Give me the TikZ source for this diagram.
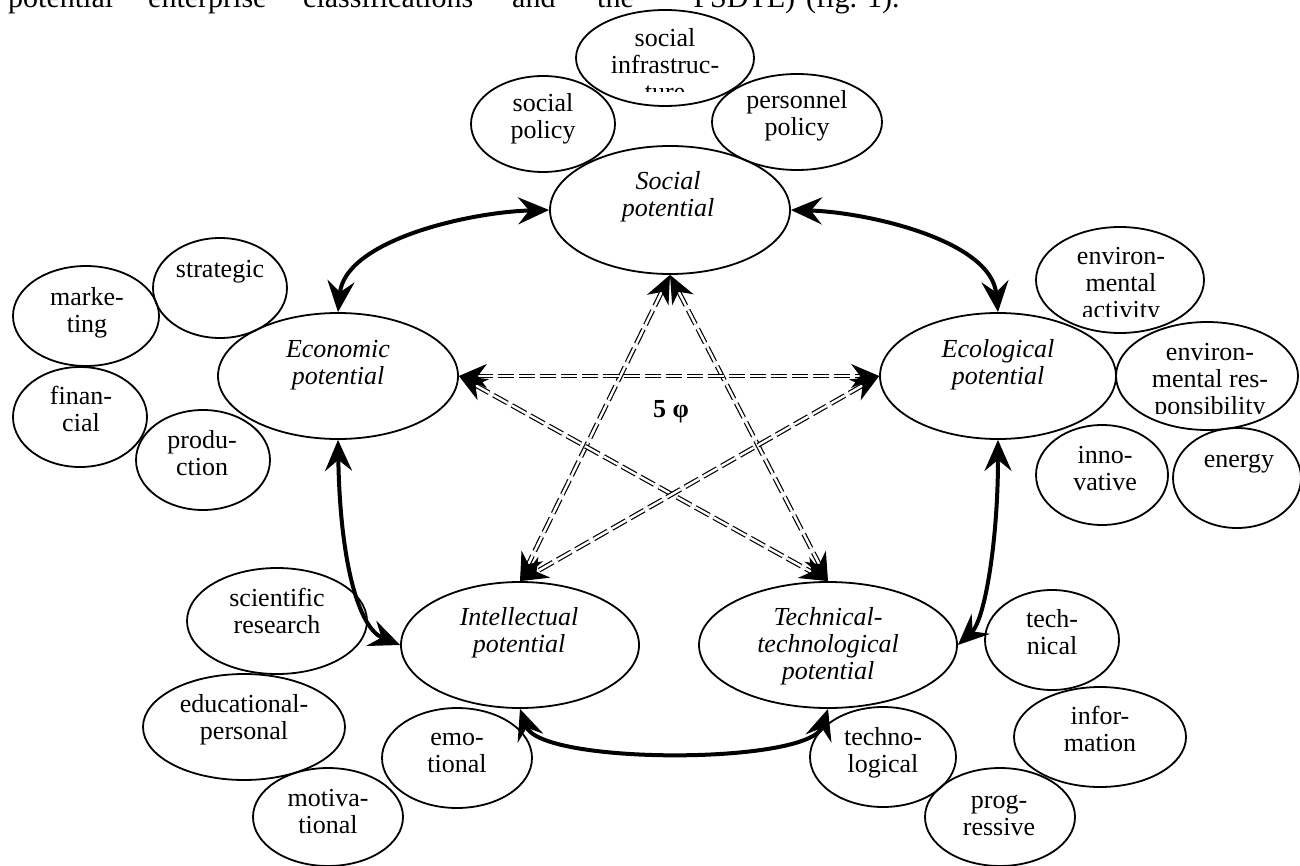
\documentclass[tikz,border=0pt]{standalone}
\usepackage{fontspec}
\setmainfont{Liberation Serif}
\usetikzlibrary{shapes.geometric,arrows.meta}
\begin{document}
\begin{tikzpicture}[x=1pt,y=-1pt,
  bub/.style={ellipse,draw,line width=1.8pt,inner sep=0pt},
  txt/.style={anchor=base,align=center,inner sep=0pt,font=\fontsize{26}{27}\selectfont},
  itxt/.style={anchor=base,align=center,inner sep=0pt,font=\fontsize{26}{27}\selectfont\itshape},
  ptxt/.style={anchor=base west,inner sep=0pt,font=\fontsize{30}{33}\selectfont},
  solidarrow/.style={line width=4pt,{Stealth[length=31pt,width=27pt,inset=11pt]}-{Stealth[length=31pt,width=27pt,inset=11pt]}},
  dblarrow/.style={double,double distance=2.4pt,line width=1.2pt,dash pattern=on 16pt off 5pt,{Stealth[length=28pt,width=24pt,inset=9pt]}-{Stealth[length=28pt,width=24pt,inset=9pt]}}]
\useasboundingbox (0,0) rectangle (1300,866);

% page text (cut at the top)
\node[ptxt] (w1) at (8,8) {potential};
\node[ptxt] (w2) at (148,8) {enterprise};
\node[ptxt] (w3) at (303,8) {classifications};
\node[ptxt] (w4) at (512,8) {and};
\node[ptxt] (w5) at (597,8) {the};
\node[ptxt] (w6) at (680,8) {“PSDTE)};
\node[ptxt] (w7) at (806,8) {(fig. 1).};

% main ellipses
\node[bub,minimum width=240pt,minimum height=128pt] (soc) at (670,210) {};
\node[bub,minimum width=240pt,minimum height=126pt] (eco) at (338,376) {};
\node[bub,minimum width=236pt,minimum height=126pt] (ecl) at (998,376) {};
\node[bub,minimum width=238pt,minimum height=126pt] (int) at (520,645) {};
\node[bub,minimum width=258pt,minimum height=126pt] (tec) at (828,645) {};

% (base anchor = baseline of the last line)
\node[itxt] (soct) at (668,217) {Social\\potential};
\node[itxt] (ecot) at (338,384) {Economic\\potential};
\node[itxt] (eclt) at (998,384) {Ecological\\potential};
\node[itxt] (intt) at (519,652) {Intellectual\\potential};
\node[itxt] (tect) at (828,679) {Technical-\\technological\\potential};

% small ellipses
\node[bub,minimum width=178pt,minimum height=96pt] (s1) at (665,58) {};
\node[bub,minimum width=144pt,minimum height=96pt] (s2) at (543,124) {};
\node[bub,minimum width=170pt,minimum height=96pt] (s3) at (797,122) {};
\node[bub,minimum width=134pt,minimum height=100pt] (e1) at (220,288) {};
\node[bub,minimum width=146pt,minimum height=100pt] (e2) at (86,316) {};
\node[bub,minimum width=134pt,minimum height=100pt] (e3) at (80,417) {};
\node[bub,minimum width=134pt,minimum height=100pt] (e4) at (203,460) {};
\node[bub,minimum width=168pt,minimum height=106pt] (g1) at (1120,280) {};
\node[bub,minimum width=182pt,minimum height=108pt] (g2) at (1207,376) {};
\node[bub,minimum width=132pt,minimum height=100pt] (g3) at (1102,475) {};
\node[bub,minimum width=128pt,minimum height=100pt] (g4) at (1237,478) {};
\node[bub,minimum width=180pt,minimum height=106pt] (i1) at (277,621) {};
\node[bub,minimum width=202pt,minimum height=106pt] (i2) at (244,727) {};
\node[bub,minimum width=150pt,minimum height=98pt] (i3) at (328,817) {};
\node[bub,minimum width=150pt,minimum height=100pt] (i4) at (457,758) {};
\node[bub,minimum width=134pt,minimum height=100pt] (t1) at (1052,640) {};
\node[bub,minimum width=172pt,minimum height=100pt] (t2) at (1100,737) {};
\node[bub,minimum width=146pt,minimum height=100pt] (t3) at (883,757) {};
\node[bub,minimum width=150pt,minimum height=98pt] (t4) at (1000,817) {};

\begin{scope}
\clip (560,20) rectangle (770,92);
\node[txt] (s1t) at (665,101) {social\\infrastruc-\\ture};
\end{scope}
\node[txt] (s2t) at (543,139) {social\\policy};
\node[txt] (s3t) at (797,136) {personnel\\policy};
\node[txt] (e1t) at (220,278) {strategic};
\node[txt] (e2t) at (87,332) {marke-\\ting};
\node[txt] (e3t) at (81,431) {finan-\\cial};
\node[txt] (e4t) at (202,475) {produ-\\ction};
\begin{scope}
\clip (1030,230) rectangle (1210,317);
\node[txt] (g1t) at (1121,319) {environ-\\mental\\activity};
\end{scope}
\begin{scope}
\clip (1110,325) rectangle (1300,413);
\node[txt] (g2t) at (1210,414) {environ-\\mental res-\\ponsibility};
\end{scope}
\node[txt] (g3t) at (1105,490) {inno-\\vative};
\node[txt] (g4t) at (1239,467) {energy};
\node[txt] (i1t) at (277,633) {scientific\\research};
\node[txt] (i2t) at (244,739) {educational-\\personal};
\node[txt] (i3t) at (328,833) {motiva-\\tional};
\node[txt] (i4t) at (457,772) {emo-\\tional};
\node[txt] (t1t) at (1052,654) {tech-\\nical};
\node[txt] (t2t) at (1100,751) {infor-\\mation};
\node[txt] (t3t) at (883,772) {techno-\\logical};
\node[txt] (t4t) at (999,835) {prog-\\ressive};

% solid ring arrows
\draw[solidarrow] (soc.west) .. controls (470,212) and (345,240) .. (eco.north);
\draw[solidarrow] (soc.east) .. controls (866,212) and (991,240) .. (ecl.north);
\draw[solidarrow] (eco.south) .. controls (340,560) and (358,628) .. (int.west);
\draw[solidarrow] (ecl.south) .. controls (998,540) and (985,620) .. (tec.east);
\draw[solidarrow] (int.south) .. controls (540,765) and (810,765) .. (tec.south);

% dashed double star arrows
\draw[dblarrow] (soc.south) -- (int.north);
\draw[dblarrow] (soc.south) -- (tec.north);
\draw[dblarrow] (eco.east) -- (ecl.west);
\draw[dblarrow] (eco.east) -- (tec.north);
\draw[dblarrow] (ecl.west) -- (int.north);

\node[anchor=base,inner sep=0pt,font=\fontsize{26}{27}\selectfont\bfseries] (phi) at (671,417) {5 φ};
\end{tikzpicture}
\end{document}
